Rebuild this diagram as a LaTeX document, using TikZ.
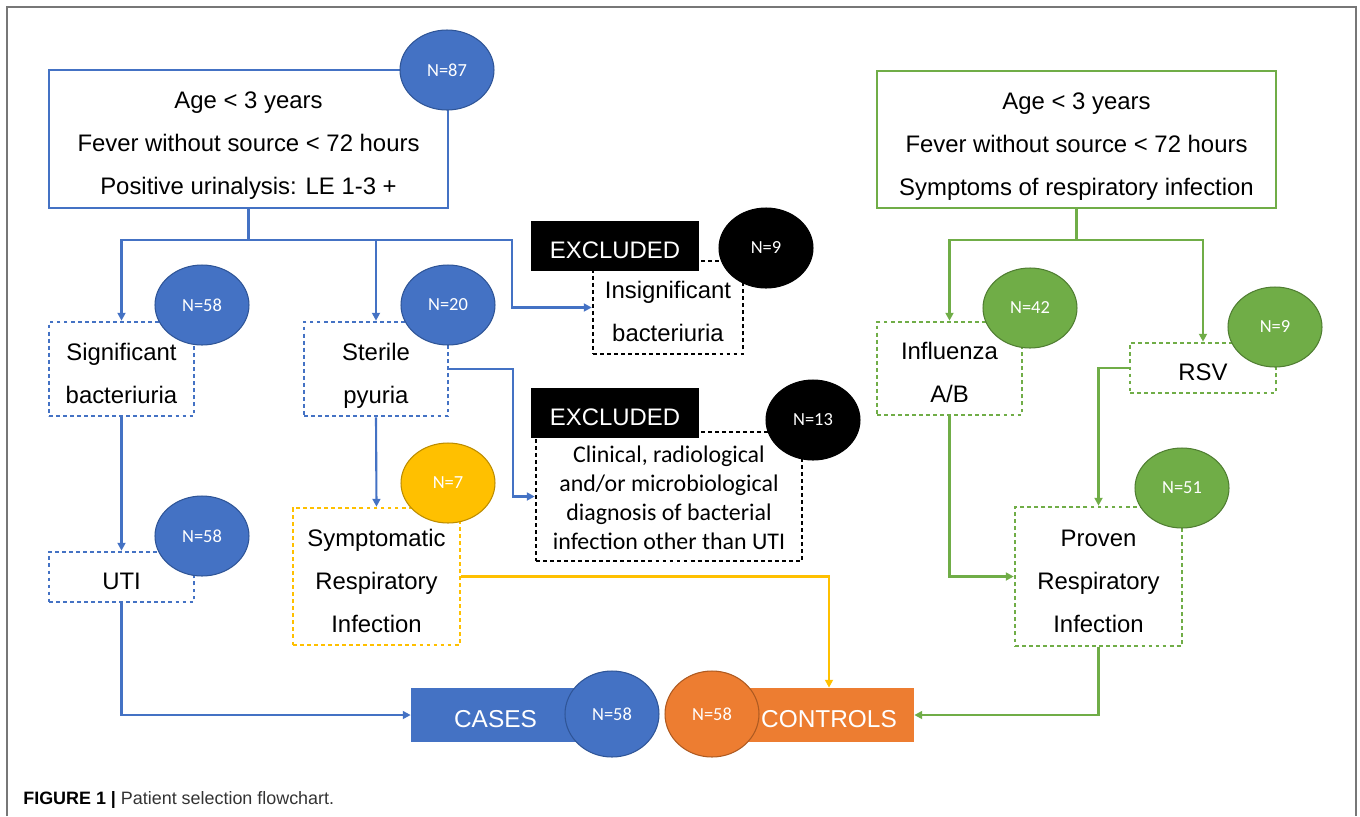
\documentclass[tikz,border=0pt]{standalone}
\usepackage{fontspec}
\setmainfont{Liberation Sans}
\newfontfamily\calfont{Carlito}
\usetikzlibrary{shapes.geometric,arrows.meta}
\definecolor{cblue}{HTML}{4472C4}
\definecolor{cblueD}{HTML}{2F5597}
\definecolor{cgreen}{HTML}{70AD47}
\definecolor{cgreenD}{HTML}{507E32}
\definecolor{corange}{HTML}{ED7D31}
\definecolor{corangeD}{HTML}{AE5A21}
\definecolor{cyellow}{HTML}{FFC000}
\definecolor{cyellowD}{HTML}{BC8C00}
\definecolor{framegray}{HTML}{777777}
\definecolor{capgray}{HTML}{333333}
\newcommand\mytop{\rule{0pt}{18.4pt}}
\newcommand\mytopc{\rule{0pt}{14.7pt}}
\newcommand\mybot{\rule[-4pt]{0pt}{0pt}}
\begin{document}
\begin{tikzpicture}[x=0.02cm,y=-0.02cm,
  mainfont/.style={font=\fontsize{13.6pt}{24.4pt}\selectfont},
  solidbox/.style={draw, line width=1.4pt, fill=white, inner sep=0pt, align=center, mainfont},
  dotbox/.style={draw, line width=1.5pt, dash pattern=on 2.2pt off 1.8pt, fill=white, inner sep=0pt, align=center, mainfont},
  exclbox/.style={fill=black, text=white, inner sep=0pt, minimum width=3.36cm, minimum height=1cm, mainfont},
  nell/.style={ellipse, minimum width=1.88cm, minimum height=1.6cm, inner sep=0pt, line width=0.6pt, text=white, font=\calfont\fontsize{10.5pt}{12pt}\selectfont},
  bigell/.style={nell, minimum height=1.72cm},
  filledbox/.style={inner sep=0pt, text=white, minimum width=3.4cm, minimum height=1.08cm, font=\fontsize{13.9pt}{18pt}\selectfont},
  conn/.style={line width=1.2pt, -{Triangle[length=4.5pt,width=4.5pt]}},
  plain/.style={line width=1.2pt}
]
\useasboundingbox (0,0) rectangle (1360,816);
\draw[framegray, line width=1.2pt] (7,816) -- (7,7) -- (1356,7) -- (1356,816);

% ---------- left branch boxes ----------
\node[solidbox, draw=cblue, minimum width=7.98cm, minimum height=2.76cm] (topL) at (248.5,139)
  {\mytop Age < 3 years\\Fever without source < 72 hours\\Positive urinalysis: LE 1-3 +\mybot};
\node[dotbox, draw=cblue, minimum width=2.9cm, minimum height=1.88cm] (sig) at (121.5,369) {\mytop Significant\\bacteriuria\mybot};
\node[dotbox, draw=cblue, minimum width=2.88cm, minimum height=1.88cm] (ster) at (376,369) {\mytop Sterile\\pyuria\mybot};
\node[dotbox, draw=cblue, minimum width=2.9cm, minimum height=1cm] (uti) at (121.5,577) {\mytop UTI\mybot};
\node[dotbox, draw=cyellow, minimum width=3.34cm, minimum height=2.74cm] (symp) at (376.5,576.5) {\mytop Symptomatic\\Respiratory\\Infection\mybot};

% ---------- excluded ----------
\node[dotbox, draw=black, minimum width=3cm, minimum height=1.86cm] (insig) at (668,307.5) {\mytop Insignificant\\bacteriuria\mybot};
\node[dotbox, draw=black, minimum width=5.32cm, minimum height=2.58cm, font=\calfont\fontsize{13.6pt}{16.4pt}\selectfont] (clin) at (669,496.5)
  {\mytopc Clinical, radiological\\and/or microbiological\\diagnosis of bacterial\\infection other than UTI\mybot};
\node[exclbox] (excl1) at (615,246) {\mytop EXCLUDED\mybot};
\node[exclbox] (excl2) at (615,412.5) {\mytop EXCLUDED\mybot};

% ---------- right branch boxes ----------
\node[solidbox, draw=cgreen, minimum width=7.98cm, minimum height=2.74cm] (topR) at (1076.5,139.5)
  {\mytop Age < 3 years\\Fever without source < 72 hours\\Symptoms of respiratory infection\mybot};
\node[dotbox, draw=cgreen, minimum width=2.9cm, minimum height=1.86cm] (infl) at (949.5,368.5) {\mytop Influenza\\A/B\mybot};
\node[dotbox, draw=cgreen, minimum width=2.92cm, minimum height=1cm] (rsv) at (1203,368) {\mytop RSV\mybot};
\node[dotbox, draw=cgreen, minimum width=3.34cm, minimum height=2.78cm] (prov) at (1098.5,576.5) {\mytop Proven\\Respiratory\\Infection\mybot};

% ---------- result boxes ----------
\node[filledbox, fill=cblue, minimum width=3.38cm] (cases) at (495.5,715) {\mytop CASES\mybot};
\node[filledbox, fill=corange] (controls) at (829,715) {\mytop CONTROLS\mybot};

% ---------- count ellipses ----------
\node[nell, fill=cblue, draw=cblueD] (e87) at (447,70) {N=87};
\node[nell, fill=cblue, draw=cblueD] (e58a) at (202,305) {N=58};
\node[nell, fill=cblue, draw=cblueD] (e20) at (448,305) {N=20};
\node[nell, fill=cblue, draw=cblueD] (e58b) at (202,536) {N=58};
\node[nell, fill=cyellow, draw=cyellowD] (e7) at (448,483) {N=7};
\node[nell, fill=black, draw=black] (e9k) at (766,248) {N=9};
\node[nell, fill=black, draw=black] (e13) at (813,420) {N=13};
\node[nell, fill=cgreen, draw=cgreenD] (e42) at (1030,308) {N=42};
\node[nell, fill=cgreen, draw=cgreenD] (e9g) at (1275,327) {N=9};
\node[nell, fill=cgreen, draw=cgreenD] (e51) at (1182,488) {N=51};
\node[bigell, fill=cblue, draw=cblueD] (e58c) at (612,714) {N=58};
\node[bigell, fill=corange, draw=corangeD] (e58d) at (712,714) {N=58};

% ---------- connectors ----------
\coordinate (jL) at (248.5,240);
\coordinate (kL) at (512,240);
\coordinate (jR) at (1076.5,240);
\begin{scope}[cblue]
\draw[plain] (topL.south) -- (jL);
\draw[conn] (jL) -| (sig.north);
\draw[conn] (jL) -| (ster.north);
\draw[conn] (jL) -- (kL) |- (insig.west);
\draw[conn] (ster.east) -- ++(64,0) |- (clin.west);
\draw[conn] (ster.south) -- (symp.north);
\draw[conn] (sig.south) -- (uti.north);
\draw[conn] (uti.south) |- (cases.west);
\end{scope}
\draw[conn, cyellow] (symp.east) -| (controls.north);
\begin{scope}[cgreen]
\draw[plain] (topR.south) -- (jR);
\draw[conn] (jR) -| (infl.north);
\draw[conn] (jR) -| (rsv.north);
\draw[conn] (rsv.west) -| (prov.north);
\draw[conn] (infl.south) |- (prov.west);
\draw[conn] (prov.south) |- (controls.east);
\end{scope}

% ---------- caption ----------
\node[anchor=west, inner sep=0pt, font=\fontsize{10.2pt}{12pt}\selectfont] (cap) at (23,800)
  {\textbf{FIGURE 1 |} \textcolor{capgray}{Patient selection flowchart.}};
\end{tikzpicture}
\end{document}
